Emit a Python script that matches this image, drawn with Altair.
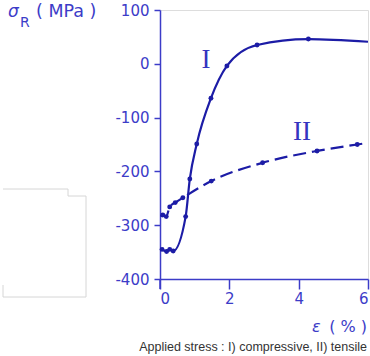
import altair as alt
import pandas as pd

# Curve I (applied compressive stress)
eps_I = [0.06, 0.19, 0.28, 0.38, 0.74, 0.86, 1.06, 1.47, 1.93, 2.80, 4.28, 6.0]
sig_I = [-345, -349, -345, -348, -284, -214, -149, -64, -4, 35, 46, 41]
mark_I = [True] * 11 + [False]

# Curve II (applied tensile stress)
eps_II = [0.02, 0.08, 0.18, 0.28, 0.44, 0.66, 1.48, 2.96, 4.53, 5.69, 6.0]
sig_II = [-284, -281, -284, -266, -258, -249, -218, -184, -162, -150, -147]
mark_II = [False] + [True] * 9 + [False]

y_ticks = [-400, -300, -200, -100, 0, 100]
x_ticks = [0, 2, 4, 6]

LINE = "#1c1ca6"
AX = "#3c3cc8"

dfI = pd.DataFrame({"eps": eps_I, "sig": sig_I, "m": mark_I, "curve": "I"})
dfII = pd.DataFrame({"eps": eps_II, "sig": sig_II, "m": mark_II, "curve": "II"})

W, H = 208, 269
L, T = 160, 10

xs = alt.Scale(domain=[0, 6], nice=False)
ys = alt.Scale(domain=[-400, 100], nice=False)

xenc = alt.X("eps:Q", scale=xs, axis=alt.Axis(
    values=x_ticks, title=None, grid=False, tickSize=10, labelFontSize=15,
    labelPadding=2, labelColor=AX, tickColor=AX, domainColor=AX,
    domainWidth=1.5, tickWidth=1.5, labelFont="DejaVu Sans"))
yenc = alt.Y("sig:Q", scale=ys, axis=alt.Axis(
    values=y_ticks, title=None, grid=False, tickSize=6, labelFontSize=15,
    labelPadding=5, labelColor=AX, tickColor=AX, domainColor=AX,
    domainWidth=1.5, tickWidth=1.5, labelFont="DejaVu Sans",
    labelExpr="'' + datum.value"))

lineI = alt.Chart(dfI).mark_line(color=LINE, strokeWidth=2.2, interpolate="monotone").encode(
    x=xenc, y=yenc)
ptsI = alt.Chart(dfI).transform_filter("datum.m").mark_circle(
    color=LINE, size=24, opacity=1).encode(x=alt.X("eps:Q", scale=xs), y=alt.Y("sig:Q", scale=ys))

lineII = alt.Chart(dfII).mark_line(color=LINE, strokeWidth=2.2, strokeDash=[13, 6],
                                   interpolate="monotone").encode(
    x=alt.X("eps:Q", scale=xs), y=alt.Y("sig:Q", scale=ys))
ptsII = alt.Chart(dfII).transform_filter("datum.m").mark_circle(
    color=LINE, size=24, opacity=1).encode(x=alt.X("eps:Q", scale=xs), y=alt.Y("sig:Q", scale=ys))


def txt(s, px, py, size, color=AX, font="DejaVu Sans", style="normal", align="left", base="middle"):
    return alt.Chart(pd.DataFrame({"t": [s]})).mark_text(
        text=s, fontSize=size, color=color, font=font, fontStyle=style,
        align=align, baseline=base).encode(x=alt.value(px - L), y=alt.value(py - T))


labels = [
    txt("I", 206, 60, 27, color="#3434c0", font="Liberation Serif", align="center"),
    txt("II", 302, 132, 27, color="#3434c0", font="Liberation Serif", align="center"),
    txt("σ", 8, 12, 17, style="italic"),
    txt("R", 20, 23, 14),
    txt("(  MPa  )", 36, 12, 17.5),
    txt("ε", 312, 327, 16, style="italic"),
    txt("( % )", 367, 327, 16, align="right"),
    txt("Applied stress : I) compressive, II) tensile", 367, 347, 12.5,
        color="#333333", font="Liberation Sans", align="right"),
]

# small extension of the vertical axis below the x axis
ext = alt.Chart(pd.DataFrame({"a": [0]})).mark_rule(color=AX, strokeWidth=1.5).encode(
    x=alt.value(0), y=alt.value(H), y2=alt.value(H + 10))

# faint grey outline at the left
G = "#d6d6d6"
def seg(x1, y1, x2, y2):
    return alt.Chart(pd.DataFrame({"a": [0]})).mark_rule(color=G, strokeWidth=1).encode(
        x=alt.value(x1 - L), x2=alt.value(x2 - L), y=alt.value(y1 - T), y2=alt.value(y2 - T))

box = [seg(3, 189, 68, 189), seg(68, 189, 68, 196), seg(68, 196, 86, 196),
       seg(86, 196, 86, 297), seg(3, 297, 86, 297), seg(3, 285, 3, 297)]

chart = alt.layer(lineI, lineII, ptsI, ptsII, ext, *labels, *box).properties(
    width=W, height=H,
    autosize=alt.AutoSizeParams(type="none"),
    padding={"left": L, "top": T, "right": 370 - L - W, "bottom": 356 - T - H},
).configure_view(stroke=AX, strokeWidth=1.5).configure(background="white")

chart.save("out.html", embed_options={"renderer": "svg", "actions": False})
